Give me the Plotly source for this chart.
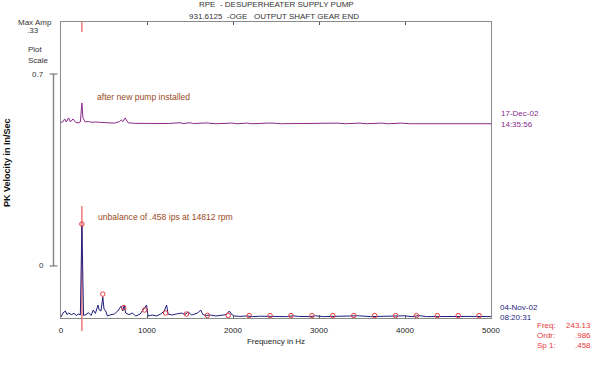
import plotly.graph_objects as go

# ---------------- data ----------------
lower_freq = [0, 23, 50, 70, 90, 120, 150, 180, 205, 225, 243, 252, 262, 290, 320, 350, 375, 400, 430, 445,
              465, 486, 500, 520, 540, 580, 620, 660, 680, 700, 718, 735, 752, 790, 830, 870, 920, 950, 975, 995,
              1012, 1060, 1110, 1160, 1200, 1228, 1245, 1290, 1340, 1403, 1440, 1480, 1520, 1558, 1590, 1624,
              1650, 1690, 1740, 1800, 1860, 1920, 1957, 1985, 2020, 2080, 2150, 2230, 2320, 2430, 2520, 2620,
              2700, 2760, 2900, 2960, 3050, 3200, 3400, 3460, 3600, 3750, 3900, 3990, 4080, 4160, 4250, 4400,
              4600, 4800, 5000]
lower_amp = [0.0, 0.02, 0.03, 0.012, 0.02, 0.012, 0.018, 0.008, 0.015, 0.01, 0.458, 0.15, 0.008, 0.012, 0.022,
             0.008, 0.035, 0.018, 0.06, 0.035, 0.03, 0.10, 0.04, 0.03, 0.005, 0.012, 0.015, 0.03, 0.045, 0.055,
             0.03, 0.06, 0.02, 0.012, 0.02, 0.005, 0.015, 0.035, 0.045, 0.06, 0.005, 0.01, 0.005, 0.015, 0.03,
             0.06, 0.015, 0.01, 0.015, 0.02, 0.012, 0.025, 0.01, 0.015, 0.02, 0.035, 0.012, 0.008, 0.01, 0.005,
             0.008, 0.012, 0.03, 0.012, 0.005, 0.003, 0.005, 0.002, 0.004, 0.002, 0.003, 0.002, 0.006, 0.003,
             0.002, 0.006, 0.002, 0.003, 0.002, 0.006, 0.002, 0.003, 0.002, 0.006, 0.002, 0.007, 0.002, 0.003,
             0.002, 0.003, 0.002]

upper_freq = [0, 20, 43, 60, 89, 110, 140, 170, 200, 225, 243, 255, 280, 320, 360, 400, 450, 500, 560, 620,
              680, 700, 720, 745, 760, 780, 850, 950, 1100, 1250, 1384, 1420, 1500, 1540, 1690, 1721, 1800,
              1984, 2050, 2159, 2220, 2400, 2440, 2470, 2550, 2930, 3000, 3220, 3300, 3477, 3550, 3729, 3800,
              3961, 4050, 5000]
upper_amp = [0.008, 0.01, 0.025, 0.01, 0.03, 0.01, 0.025, 0.008, 0.005, 0.01, 0.105, 0.03, 0.01, 0.012, 0.008,
             0.01, 0.008, 0.006, 0.005, 0.004, 0.012, 0.02, 0.012, 0.03, 0.02, 0.006, 0.003, 0.002, 0.002, 0.002,
             0.006, 0.002, 0.006, 0.002, 0.005, 0.004, 0.001, 0.004, 0.001, 0.004, 0.001, 0.004, 0.002, 0.004,
             0.001, 0.004, 0.001, 0.004, 0.001, 0.004, 0.001, 0.004, 0.001, 0.004, 0.001, 0.001]

harm_freq = [243, 486, 729, 973, 1216, 1459, 1702, 1945, 2188, 2431, 2674, 2918, 3161, 3404, 3647, 3890,
             4133, 4376, 4619, 4862]
harm_amp = [0.467, 0.115, 0.047, 0.035, 0.02, 0.015, 0.008, 0.008, 0.007, 0.007, 0.007, 0.007, 0.007, 0.007,
            0.007, 0.007, 0.007, 0.007, 0.007, 0.007]

x_ticks = [0, 1000, 2000, 3000, 4000, 5000]
cursor_freq = 243.13
upper_offset = 0.97

title_lines = ["RPE  - DESUPERHEATER SUPPLY PUMP", "931.6125  -OGE   OUTPUT SHAFT GEAR END"]
upper_date = ["17-Dec-02", "14:35:56"]
lower_date = ["04-Nov-02", "08:20:31"]
readout_labels = ["Freq:", "Ordr:", "Sp 1:"]
readout_values = ["243.13", ".986", ".458"]

# ---------------- layout helpers (pixel -> paper) ----------------
W, H = 614, 366
L, R, T, B = 61, 491, 22, 318


def px(x):
    return (x - L) / (R - L)


def py(y):
    return (B - y) / (B - T)


FONT = "Liberation Sans, Arial, sans-serif"
NAVY = "#1e1e7c"
PURPLE = "#8a2a8a"
BROWN = "#9a4a1e"
RED = "#e8383a"

fig = go.Figure()
fig.add_trace(go.Scatter(x=upper_freq, y=[a + upper_offset for a in upper_amp], mode="lines",
                         line=dict(color=PURPLE, width=1), hoverinfo="skip"))
fig.add_trace(go.Scatter(x=lower_freq, y=lower_amp, mode="lines",
                         line=dict(color=NAVY, width=1), hoverinfo="skip"))
fig.add_trace(go.Scatter(x=harm_freq, y=harm_amp, mode="markers",
                         marker=dict(symbol="circle-open", size=4.5, color=RED, line=dict(width=1)),
                         hoverinfo="skip", cliponaxis=False))

ann = []


def text(x, y, s, color="#222", size=8, anchor="left", bold=False, angle=0):
    ann.append(dict(x=px(x), y=py(y), xref="paper", yref="paper", text=("<b>%s</b>" % s) if bold else s,
                    showarrow=False, xanchor=anchor, yanchor="middle", textangle=angle,
                    font=dict(family=FONT, size=size, color=color)))


text(276, 5, title_lines[0], "#333", 8, "center")
text(274, 16, title_lines[1], "#333", 8, "center")
text(35, 22, "Max Amp", "#333", 8, "center")
text(33, 31, ".33", "#333", 8, "center")
text(35, 49, "Plot", "#333", 8, "center")
text(38, 60, "Scale", "#333", 8, "center")
text(46, 74, "0.7", "#333", 8, "right")
text(46, 265, "0", "#333", 8, "right")
text(7, 162, "PK Velocity in In/Sec", "#111", 9, "center", bold=True, angle=-90)
text(95, 97, "after new pump installed", BROWN, 8.6)
text(96, 217, "unbalance of .458 ips at 14812 rpm", BROWN, 8.6)
text(499, 113, upper_date[0], PURPLE, 8)
text(499, 124, upper_date[1], PURPLE, 8)
text(498, 307, lower_date[0], NAVY, 8)
text(498, 317, lower_date[1], NAVY, 8)
for i, (lab, val) in enumerate(zip(readout_labels, readout_values)):
    yy = 325 + i * 10.4
    text(535, yy, lab, RED, 8)
    text(593, yy, val, RED, 8, "right")

shapes = [
    # plot scale bar
    dict(type="line", xref="paper", yref="paper", x0=px(53.5), x1=px(53.5), y0=py(74), y1=py(266),
         line=dict(color="#888", width=1.5)),
    dict(type="line", xref="paper", yref="paper", x0=px(49.5), x1=px(57.5), y0=py(74), y1=py(74),
         line=dict(color="#666", width=1)),
    dict(type="line", xref="paper", yref="paper", x0=px(49.5), x1=px(57.5), y0=py(266), y1=py(266),
         line=dict(color="#666", width=1)),
    # cursor
    dict(type="line", xref="x", yref="paper", x0=cursor_freq, x1=cursor_freq, y0=py(22), y1=py(32),
         line=dict(color=RED, width=1)),
    dict(type="line", xref="x", yref="paper", x0=cursor_freq, x1=cursor_freq, y0=py(206), y1=py(331),
         line=dict(color=RED, width=1), layer="below"),
]

fig.update_layout(
    width=W, height=H, margin=dict(l=L, r=W - R, t=T, b=H - B),
    paper_bgcolor="white", plot_bgcolor="white", showlegend=False,
    annotations=ann, shapes=shapes,
    xaxis=dict(range=[0, 5000], tickvals=x_ticks, ticktext=[str(v) for v in x_ticks],
               showgrid=False, zeroline=False, showline=True, linecolor="#8a8a8a", linewidth=1,
               mirror="ticks", ticks="inside", ticklen=3, tickcolor="#555",
               tickfont=dict(family=FONT, size=8, color="#222"), ticklabelstandoff=4,
               title=dict(text="Frequency in Hz", font=dict(family=FONT, size=8, color="#222"), standoff=4)),
    yaxis=dict(range=[-0.005, 1.482], showticklabels=False, showgrid=False, zeroline=False,
               showline=True, linecolor="#8a8a8a", linewidth=1, mirror=True, ticks=""),
)

fig.write_html("out.html", config={"displayModeBar": False},
               post_script="document.body.style.margin='0';document.body.style.overflow='hidden';")
